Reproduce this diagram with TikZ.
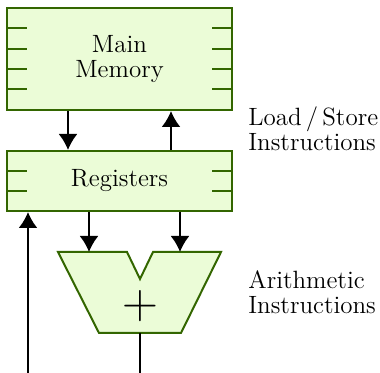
\documentclass[tikz,border=0pt]{standalone}
\usetikzlibrary{arrows.meta}
\definecolor{boxfill}{HTML}{EBFCD7}
\definecolor{boxline}{HTML}{336600}
\tikzset{
  unit/.style={draw=boxline,fill=boxfill,line width=1pt,minimum width=112.5pt,inner sep=0pt,align=center},
  tick/.style={draw=boxline,line width=1pt},
  arr/.style={line width=1pt,-{Latex[length=8pt,width=9.5pt]}},
  wire/.style={line width=1pt},
  lbl/.style={align=left,anchor=west,inner sep=0pt}
}
\begin{document}
\begin{tikzpicture}[x=0.5pt,y=-0.5pt,font=\fontsize{12.5}{12.5}\selectfont]
\useasboundingbox (0,0) rectangle (380,373);
\node[unit,minimum height=51pt] (mem) at (119.5,59) {Main\\Memory};
\node[unit,minimum height=30pt] (reg) at (119.5,181) {Registers};
\foreach \d in {-31,-10,10,30}{
  \draw[tick] ([yshift=-\d*0.5pt]mem.west) -- ++(21,0);
  \draw[tick] ([yshift=-\d*0.5pt]mem.east) -- ++(-21,0);
}
\foreach \d in {-10,10}{
  \draw[tick] ([yshift=-\d*0.5pt]reg.west) -- ++(21,0);
  \draw[tick] ([yshift=-\d*0.5pt]reg.east) -- ++(-21,0);
}
% adder
\coordinate (aluA) at (89,252);
\coordinate (aluB) at (180,252);
\coordinate (aluout) at (140,333);
\draw[draw=boxline,fill=boxfill,line width=1pt]
  (58,252) -- (127,252) -- (140,279) -- (153,252) -- (221,252)
  -- (181,333) -- (99,333) -- cycle;
\node[font=\fontsize{25}{25}\selectfont] (plus) at (140,306) {$\mathbf{+}$};
% connectors
\coordinate (ld) at (68,0);
\coordinate (st) at (171,0);
\coordinate (res) at (28,373);
\coordinate (out) at (140,373);
\draw[arr] (mem.south -| ld) -- (reg.north -| ld);
\draw[arr] (reg.north -| st) -- (mem.south -| st);
\draw[arr] (reg.south -| aluA) -- (aluA);
\draw[arr] (reg.south -| aluB) -- (aluB);
\draw[arr] (res) -- (reg.south -| res);
\draw[wire] (aluout) -- (out);
% labels
\node[lbl] (ls) at (248,129) {Load\,/\,Store\\Instructions};
\node[lbl] (ar) at (248,292) {Arithmetic\\Instructions};
\end{tikzpicture}
\end{document}
